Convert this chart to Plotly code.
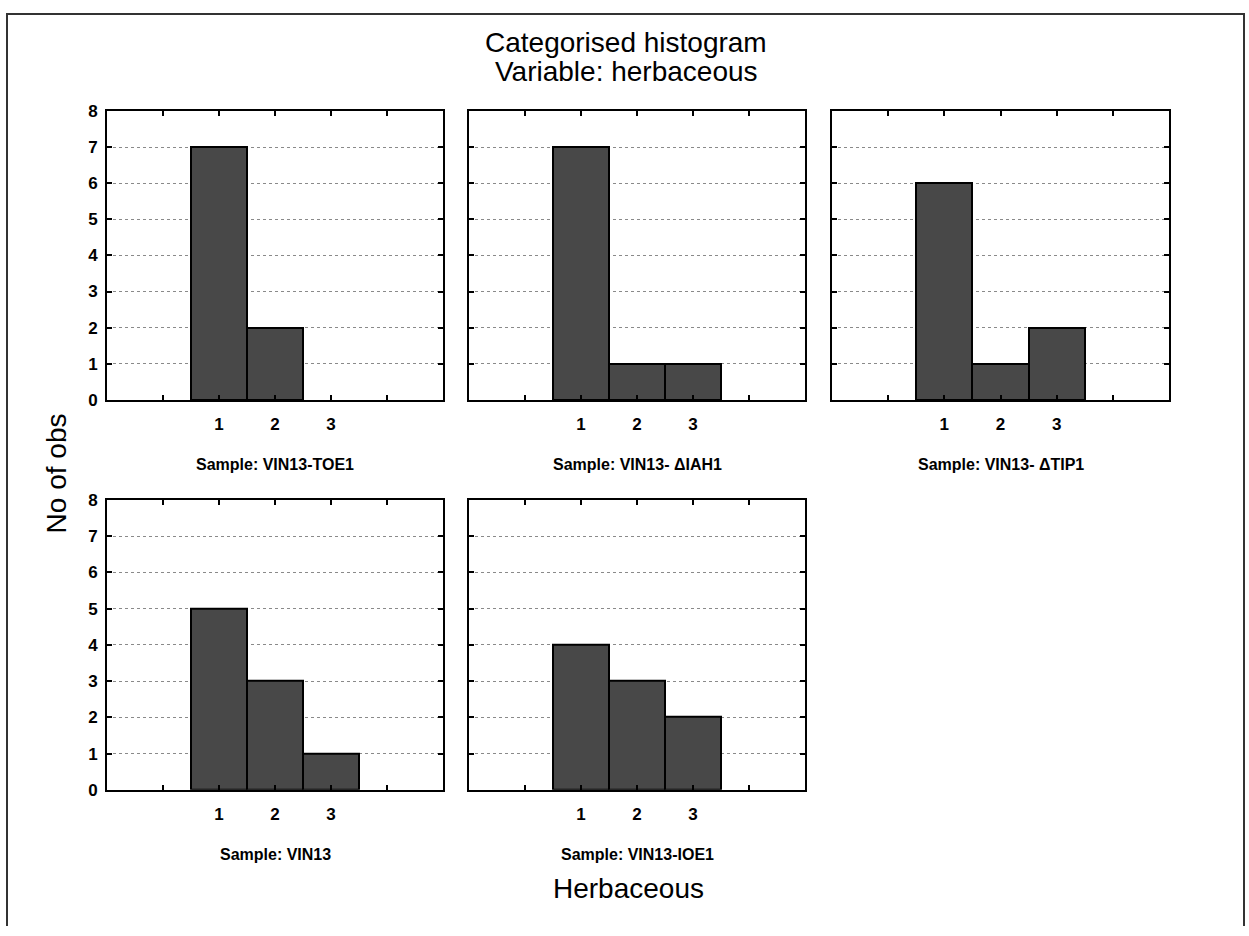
import plotly.graph_objects as go

W, H = 1249, 936

# ---- data ----
bins = [1, 2, 3]
x_tick_vals = [0, 1, 2, 3, 4]
x_tick_text = ["", "1", "2", "3", ""]
y_tick_vals = [0, 1, 2, 3, 4, 5, 6, 7, 8]
sample_labels = [
    "Sample: VIN13-TOE1",
    "Sample: VIN13- \u0394IAH1",
    "Sample: VIN13- \u0394TIP1",
    "Sample: VIN13",
    "Sample: VIN13-IOE1",
]
counts_toe1 = [7, 2, 0]
counts_iah1 = [7, 1, 1]
counts_tip1 = [6, 1, 2]
counts_vin13 = [5, 3, 1]
counts_ioe1 = [4, 3, 2]
series = [counts_toe1, counts_iah1, counts_tip1, counts_vin13, counts_ioe1]

title_line1 = "Categorised histogram"
title_line2 = "Variable: herbaceous"
x_title = "Herbaceous"
y_title = "No of obs"

# ---- layout geometry (pixels) ----
cols_px = [(107, 443), (469, 805), (832, 1169)]
rows_px = [(104, 399), (501, 797)]
positions = [(0, 0), (0, 1), (0, 2), (1, 0), (1, 1)]


def px_x(p):
    return p / W


def px_y(p):
    return 1 - p / H


FONT = "Liberation Sans, Arial, sans-serif"

fig = go.Figure()
layout = dict(
    width=W,
    height=H,
    margin=dict(l=0, r=0, t=0, b=0),
    paper_bgcolor="white",
    plot_bgcolor="white",
    showlegend=False,
    font=dict(family=FONT, color="black"),
    bargap=0,
)

annotations = []
for i, (vals, lab, (r, c)) in enumerate(zip(series, sample_labels, positions)):
    n = "" if i == 0 else str(i + 1)
    xa = "x" + n
    ya = "y" + n
    fig.add_trace(go.Bar(
        x=bins, y=[v if v else None for v in vals], width=1.0,
        marker=dict(color="#484848", line=dict(color="black", width=2)),
        xaxis=xa, yaxis=ya, hoverinfo="x+y",
    ))
    x0, x1 = cols_px[c]
    y0, y1 = rows_px[r]
    layout["xaxis" + n] = dict(
        domain=[px_x(x0), px_x(x1)], anchor=ya, range=[-1, 5],
        tickmode="array", tickvals=x_tick_vals, ticktext=x_tick_text,
        ticks="inside", ticklen=5, tickwidth=1.5, tickcolor="black",
        showline=True, linecolor="black", linewidth=2, mirror="ticks",
        showgrid=False, zeroline=False, fixedrange=True,
        tickfont=dict(family=FONT, size=17, color="black", weight="bold"),
        ticklabelstandoff=8,
    )
    layout["yaxis" + n] = dict(
        domain=[px_y(y1), px_y(y0)], anchor=xa, range=[0, 8],
        tickmode="array", tickvals=y_tick_vals,
        ticks="inside", ticklen=5, tickwidth=1.5, tickcolor="black",
        showline=True, linecolor="black", linewidth=2, mirror="ticks",
        showgrid=True, gridcolor="#8a8a8a", griddash="dot", gridwidth=1,
        zeroline=False, fixedrange=True,
        showticklabels=(c == 0),
        tickfont=dict(family=FONT, size=17, color="black", weight="bold"),
        ticklabelstandoff=4,
    )
    annotations.append(dict(
        text=lab, x=px_x((x0 + x1) / 2), y=px_y(y1 + 66),
        xref="paper", yref="paper", showarrow=False,
        xanchor="center", yanchor="middle",
        font=dict(family=FONT, size=16, color="black", weight="bold"),
    ))

annotations += [
    dict(text=title_line1, x=px_x(626), y=px_y(34), xref="paper", yref="paper",
         showarrow=False, xanchor="center", yanchor="middle",
         font=dict(family=FONT, size=28, color="black")),
    dict(text=title_line2, x=px_x(626), y=px_y(64), xref="paper", yref="paper",
         showarrow=False, xanchor="center", yanchor="middle",
         font=dict(family=FONT, size=28, color="black")),
    dict(text=x_title, x=px_x(628), y=px_y(898), xref="paper", yref="paper",
         showarrow=False, xanchor="center", yanchor="middle",
         font=dict(family=FONT, size=28, color="black")),
    dict(text=y_title, x=px_x(56), y=px_y(474), xref="paper", yref="paper",
         showarrow=False, xanchor="center", yanchor="middle", textangle=-90,
         font=dict(family=FONT, size=28, color="black")),
]
layout["annotations"] = annotations
bx0, bx1, by_top, by_bot = px_x(7), px_x(1244), px_y(5), px_y(936)
layout["shapes"] = [dict(
    type="path", xref="paper", yref="paper",
    path=f"M {bx0} {by_bot} L {bx0} {by_top} L {bx1} {by_top} L {bx1} {by_bot}",
    line=dict(color="#333333", width=2), layer="below",
)]

fig.update_layout(**layout)
fig.write_html("out.html")
